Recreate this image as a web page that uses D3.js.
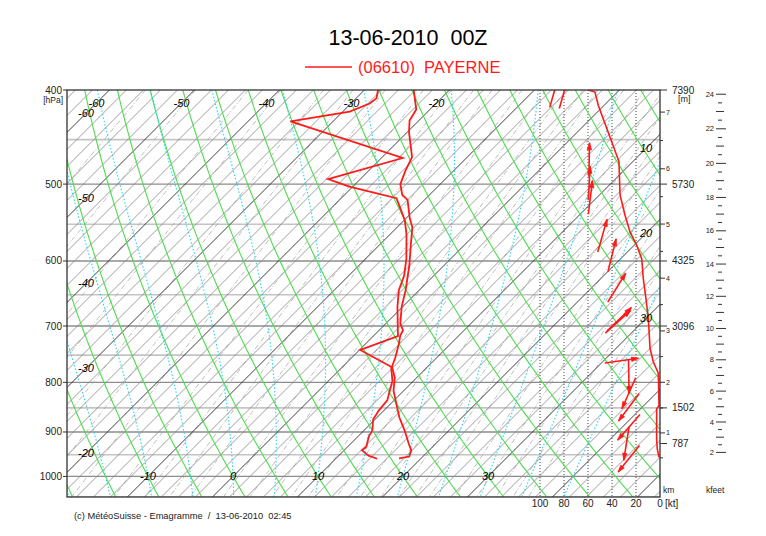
<!DOCTYPE html>
<html>
<head>
<meta charset="utf-8">
<script src="https://cdn.jsdelivr.net/npm/d3@7"></script>
<style>
body { margin: 0; background: #fff; }
svg { font-family: "Liberation Sans", Arial, Helvetica, sans-serif; }
</style>
</head>
<body>
<svg id="chart"></svg>
<script>
var width = 766;
var height = 536;
var plot = {left: 67, right: 660, top: 90, bottom: 497};

// sounding 06610 Payerne, 13-06-2010 00Z
var tempP = [958, 954, 940, 925, 897, 869, 845, 816, 791, 771, 754, 730, 716, 707, 696, 669, 643, 625, 606, 574, 554, 542, 519, 513, 500, 484, 469, 459, 442, 430, 419, 400];
var tempT = [17.4, 18.4, 17.9, 16.8, 14.8, 12.6, 10.9, 8.8, 7.4, 5.8, 5.1, 3.9, 3.1, 2.8, 1.7, -0.1, -1.6, -2.8, -4.1, -6.6, -8.2, -9.6, -12.0, -13.2, -14.7, -15.7, -16.5, -17.7, -19.8, -21.1, -21.6, -24.2];
var dewP = [959, 952, 940, 932, 910, 897, 874, 855, 835, 797, 771, 741, 717, 696, 669, 643, 621, 597, 564, 545, 530, 517, 503, 494, 470, 431, 421, 413, 408, 400];
var dewT = [14.9, 13.5, 12.1, 12.2, 11.3, 11.0, 9.8, 9.4, 9.2, 7.5, 5.7, 0.1, 2.9, 1.4, -0.6, -2.4, -3.5, -5.2, -8.0, -9.9, -11.8, -13.5, -20.4, -23.8, -17.5, -35.0, -29.2, -27.8, -27.6, -28.4];

// wind speed profile [kt]
var speedP = [956, 936, 915, 852, 845, 783, 762, 738, 688, 656, 626, 597, 578, 560, 538, 513, 474, 438, 415, 402, 400];
var speedKt = [0.8, 2.3, 2.8, 2.8, 0.8, 1.4, 5.6, 8.3, 9.7, 11.7, 13.9, 15.2, 19.4, 25, 29.2, 33.3, 34.2, 44.4, 51.4, 54.2, 59.8];

// wind arrows: level, direction (deg, from), speed (kt)
var windP = [401, 402, 472, 499, 516, 565, 592, 639, 689, 693, 760, 789, 821, 849, 890, 925, 959];
var windDir = [196, 196, 181, 183, 187, 196, 194, 212, 226, 228, 262, 359, 24, 37, 41, 9, 39];
var windKt = [88, 80, 59, 59, 58, 48, 40, 36, 34, 35, 32, 26, 26, 26, 26, 28, 26];

// standard levels and their heights
var levelP = [400, 500, 600, 700, 850, 925];
var levelH = [7390, 5730, 4325, 3096, 1502, 787];

var pTicks = [400, 500, 600, 700, 800, 900, 1000];
var ktTicks = [100, 80, 60, 40, 20, 0];
var kmTicks = [1, 2, 3, 4, 5, 6, 7];
var kfeetTicks = [2, 4, 6, 8, 10, 12, 14, 16, 18, 20, 22, 24];

var svg = d3.select('#chart')
  .attr('width', width)
  .attr('height', height);

// scales
var y = d3.scaleLog().domain([400, 1050]).range([plot.top, plot.bottom]);
var xT = d3.scaleLinear().domain([0, 10]).range([233, 318]);
var xKt = d3.scaleLinear().domain([0, 100]).range([plot.right, 540]);
var yH = d3.scaleLinear().domain(levelH).range(levelP.map(function(p) { return y(p); }));

function sx(T, p) { return xT(T) + y(1000) - y(p); }

svg.append('defs').append('clipPath').attr('id', 'clip')
  .append('rect')
  .attr('x', plot.left).attr('y', plot.top)
  .attr('width', plot.right - plot.left).attr('height', plot.bottom - plot.top);

var g = svg.append('g').attr('clip-path', 'url(#clip)');

var line = d3.line().x(function(d) { return d[0]; }).y(function(d) { return d[1]; });
var pSteps = d3.range(400, 1051, 10);

// isobars
g.selectAll('.isobar')
  .data(d3.range(450, 1051, 50))
  .enter().append('line')
    .attr('x1', plot.left).attr('x2', plot.right)
    .attr('y1', function(d) { return y(d); })
    .attr('y2', function(d) { return y(d); })
    .attr('stroke', function(d) { return d % 100 ? '#c4c4c4' : '#8c8c8c'; })
    .attr('stroke-width', function(d) { return d % 100 ? 1.6 : 1.3; });

// wind speed grid
g.selectAll('.ktline')
  .data(ktTicks.slice(0, 5))
  .enter().append('line')
    .attr('x1', function(d) { return xKt(d); })
    .attr('x2', function(d) { return xKt(d); })
    .attr('y1', plot.top).attr('y2', plot.bottom)
    .attr('stroke', '#444')
    .attr('stroke-dasharray', '1,2');

// mixing ratio lines
var es = function(t) { return 6.112 * Math.exp(17.67 * t / (t + 243.5)); };
var mixRatios = [0.05, 0.1, 0.2, 0.3, 0.5, 0.7, 1, 1.5, 2, 2.5, 3, 4, 5, 6, 7, 8, 10, 12, 14, 16, 18, 20, 24, 28, 32, 36, 40];
g.selectAll('.mix')
  .data(mixRatios)
  .enter().append('path')
    .attr('fill', 'none')
    .attr('stroke', '#a0a0a0')
    .attr('stroke-width', 0.7)
    .attr('stroke-dasharray', '5,2,1,2')
    .attr('d', function(w) {
      return line(pSteps.map(function(p) {
        var e = (w / 1000) * p / (0.622 + w / 1000);
        var l = Math.log(e / 6.112);
        var t = 243.5 * l / (17.67 - l);
        return [sx(t, p), y(p)];
      }));
    });

// isotherms
g.selectAll('.isotherm')
  .data(d3.range(-130, 60, 2))
  .enter().append('line')
    .attr('x1', function(d) { return sx(d, 1050); })
    .attr('y1', y(1050))
    .attr('x2', function(d) { return sx(d, 400); })
    .attr('y2', y(400))
    .attr('stroke', function(d) { return d % 10 ? '#858585' : '#2a2a2a'; })
    .attr('stroke-width', function(d) { return d % 10 ? 0.8 : 0.9; });

// dry adiabats
g.selectAll('.dry')
  .data(d3.range(-20, 101, 5))
  .enter().append('path')
    .attr('fill', 'none')
    .attr('stroke', '#4ddc4d')
    .attr('stroke-width', 1.1)
    .attr('d', function(th) {
      return line(pSteps.map(function(p) {
        var t = (th + 273.15) * Math.pow(p / 1000, 0.2857) - 273.15;
        return [sx(t, p), y(p)];
      }));
    });

// saturated adiabats
function moist(thw) {
  var pts = [];
  [-2, 2].forEach(function(dp) {
    var t = thw + 273.15, p = 1000, seg = [];
    while (p >= 400 && p <= 1050) {
      seg.push([sx(t - 273.15, p), y(p)]);
      var e = es(t - 273.15), rs = 0.622 * e / (p - e);
      var dTdp = (287 * t + 2.5e6 * rs) / (1005 + 2.5e6 * 2.5e6 * rs * 0.622 / (287 * t * t)) / p;
      t += dTdp * dp;
      p += dp;
    }
    if (dp < 0) pts = seg.reverse(); else pts = pts.concat(seg);
  });
  return pts;
}
g.selectAll('.moist')
  .data(d3.range(-20, 41, 5))
  .enter().append('path')
    .attr('fill', 'none')
    .attr('stroke', '#22d8f0')
    .attr('stroke-width', 1.1)
    .attr('stroke-dasharray', '1.5,2')
    .attr('d', function(d) { return line(moist(d)); });

// isotherm labels
var tLabels = [];
[-60, -50, -40, -30, -20].forEach(function(t) { tLabels.push([t, xT(t) + y(1000) - 103, 103]); });
[-60, -50, -40, -30, -20].forEach(function(t) { tLabels.push([t, 86, xT(t) + y(1000) - 86]); });
[-10, 0, 10, 20, 30].forEach(function(t) { tLabels.push([t, xT(t), y(1000)]); });
[10, 20, 30].forEach(function(t) { tLabels.push([t, 646, xT(t) + y(1000) - 646]); });
svg.append('g')
  .attr('font-size', 11)
  .attr('font-style', 'italic')
  .attr('text-anchor', 'middle')
  .selectAll('text')
  .data(tLabels)
  .enter().append('text')
    .attr('x', function(d) { return d[1]; })
    .attr('y', function(d) { return d[2]; })
    .attr('dy', '0.35em')
    .text(function(d) { return d[0]; });

// sounding curves
var red = '#ff1a1a';
g.append('path')
  .attr('fill', 'none').attr('stroke', red).attr('stroke-width', 1.8)
  .attr('d', line(tempP.map(function(p, i) { return [sx(tempT[i], p), y(p)]; })));
g.append('path')
  .attr('fill', 'none').attr('stroke', red).attr('stroke-width', 1.8)
  .attr('d', line(dewP.map(function(p, i) { return [sx(dewT[i], p), y(p)]; })));
g.append('path')
  .attr('fill', 'none').attr('stroke', red).attr('stroke-width', 1.6)
  .attr('d', line(speedP.map(function(p, i) { return [xKt(speedKt[i]), y(p)]; })));

// wind arrows
var arrowLen = 34;
var arrows = g.append('g').attr('stroke', red).attr('fill', red).attr('stroke-width', 1.6);
windP.forEach(function(p, i) {
  var a = (windDir[i] + 180) * Math.PI / 180;
  var ux = Math.sin(a), uy = -Math.cos(a);
  var cx = xKt(windKt[i]), cy = y(p);
  var x1 = cx - ux * arrowLen / 2, y1 = cy - uy * arrowLen / 2;
  var x2 = cx + ux * arrowLen / 2, y2 = cy + uy * arrowLen / 2;
  arrows.append('line').attr('x1', x1).attr('y1', y1).attr('x2', x2).attr('y2', y2);
  var hx = x2 - ux * 7, hy = y2 - uy * 7;
  arrows.append('path')
    .attr('stroke-width', 0.8)
    .attr('d', 'M' + x2 + ',' + y2 + 'L' + (hx - uy * 2.2) + ',' + (hy + ux * 2.2) + 'L' + (hx + uy * 2.2) + ',' + (hy - ux * 2.2) + 'Z');
});

// frame
svg.append('rect')
  .attr('x', plot.left).attr('y', plot.top)
  .attr('width', plot.right - plot.left).attr('height', plot.bottom - plot.top)
  .attr('fill', 'none').attr('stroke', '#333').attr('stroke-width', 1.3);

// pressure axis
var left = svg.append('g').attr('font-size', 10).attr('text-anchor', 'end').attr('fill', '#222');
left.selectAll('text')
  .data(pTicks)
  .enter().append('text')
    .attr('x', 62)
    .attr('y', function(d) { return y(d); })
    .attr('dy', '0.35em')
    .text(function(d) { return d; });
left.selectAll('line')
  .data(pTicks)
  .enter().append('line')
    .attr('x1', 63).attr('x2', plot.left)
    .attr('y1', function(d) { return y(d); })
    .attr('y2', function(d) { return y(d); })
    .attr('stroke', '#333');
left.append('text').attr('x', 63).attr('y', 103).attr('font-size', 8.5).text('[hPa]');

// height axis (km and standard levels)
var right = svg.append('g').attr('fill', '#222');
right.selectAll('.kmminor')
  .data(d3.range(0.5, 7.5, 0.5))
  .enter().append('line')
    .attr('x1', plot.right).attr('x2', function(d) { return plot.right + (d % 1 ? 3 : 5); })
    .attr('y1', function(d) { return yH(d * 1000); })
    .attr('y2', function(d) { return yH(d * 1000); })
    .attr('stroke', '#333');
right.selectAll('.kmlabel')
  .data(kmTicks)
  .enter().append('text')
    .attr('x', plot.right + 6)
    .attr('y', function(d) { return yH(d * 1000); })
    .attr('dy', '0.35em')
    .attr('font-size', 7)
    .text(function(d) { return d; });
right.selectAll('.level')
  .data(levelP)
  .enter().append('line')
    .attr('x1', plot.right).attr('x2', plot.right + 7)
    .attr('y1', function(d) { return y(d); })
    .attr('y2', function(d) { return y(d); })
    .attr('stroke', '#333');
right.selectAll('.levellabel')
  .data(levelH)
  .enter().append('text')
    .attr('x', 672)
    .attr('y', function(d, i) { return y(levelP[i]); })
    .attr('dy', '0.35em')
    .attr('font-size', 10)
    .text(function(d) { return d; });
right.append('text').attr('x', 678).attr('y', 102).attr('font-size', 9).text('[m]');
right.append('text').attr('x', 663).attr('y', 493).attr('font-size', 8.5).text('km');

// kfeet axis
var kf = svg.append('g').attr('fill', '#222');
kf.selectAll('line')
  .data(d3.range(2, 24.01, 0.5))
  .enter().append('line')
    .attr('x1', function(d) { return d % 2 === 0 ? 716 : (d % 1 === 0 ? 716 : 718); })
    .attr('x2', function(d) { return d % 2 === 0 ? 726 : (d % 1 === 0 ? 724 : 722); })
    .attr('y1', function(d) { return yH(d * 304.8); })
    .attr('y2', function(d) { return yH(d * 304.8); })
    .attr('stroke', '#333');
kf.selectAll('text')
  .data(kfeetTicks)
  .enter().append('text')
    .attr('x', 714)
    .attr('y', function(d) { return yH(d * 304.8); })
    .attr('dy', '0.35em')
    .attr('font-size', 7.5)
    .attr('text-anchor', 'end')
    .text(function(d) { return d; });
kf.append('text').attr('x', 706).attr('y', 493).attr('font-size', 8.5).text('kfeet');

// kt axis labels
var bottom = svg.append('g').attr('font-size', 10).attr('text-anchor', 'middle').attr('fill', '#222');
bottom.selectAll('text')
  .data(ktTicks)
  .enter().append('text')
    .attr('x', function(d) { return xKt(d); })
    .attr('y', 507)
    .text(function(d) { return d; });
bottom.append('text').attr('x', 665).attr('y', 507).attr('text-anchor', 'start').text('[kt]');

// title and legend
svg.append('text')
  .attr('x', 408).attr('y', 45)
  .attr('text-anchor', 'middle')
  .attr('font-size', 21.5)
  .style('white-space', 'pre')
  .text('13-06-2010  00Z');
svg.append('line')
  .attr('x1', 305).attr('x2', 352).attr('y1', 67).attr('y2', 67)
  .attr('stroke', red).attr('stroke-width', 1.5);
svg.append('text')
  .attr('x', 358).attr('y', 73)
  .attr('font-size', 16.5)
  .attr('fill', red)
  .style('white-space', 'pre')
  .text('(06610)  PAYERNE');

// footer
svg.append('text')
  .attr('x', 74).attr('y', 519)
  .attr('font-size', 9.3)
  .attr('fill', '#222')
  .style('white-space', 'pre')
  .text('(c) MétéoSuisse - Emagramme  /  13-06-2010  02:45');
</script>
</body>
</html>
